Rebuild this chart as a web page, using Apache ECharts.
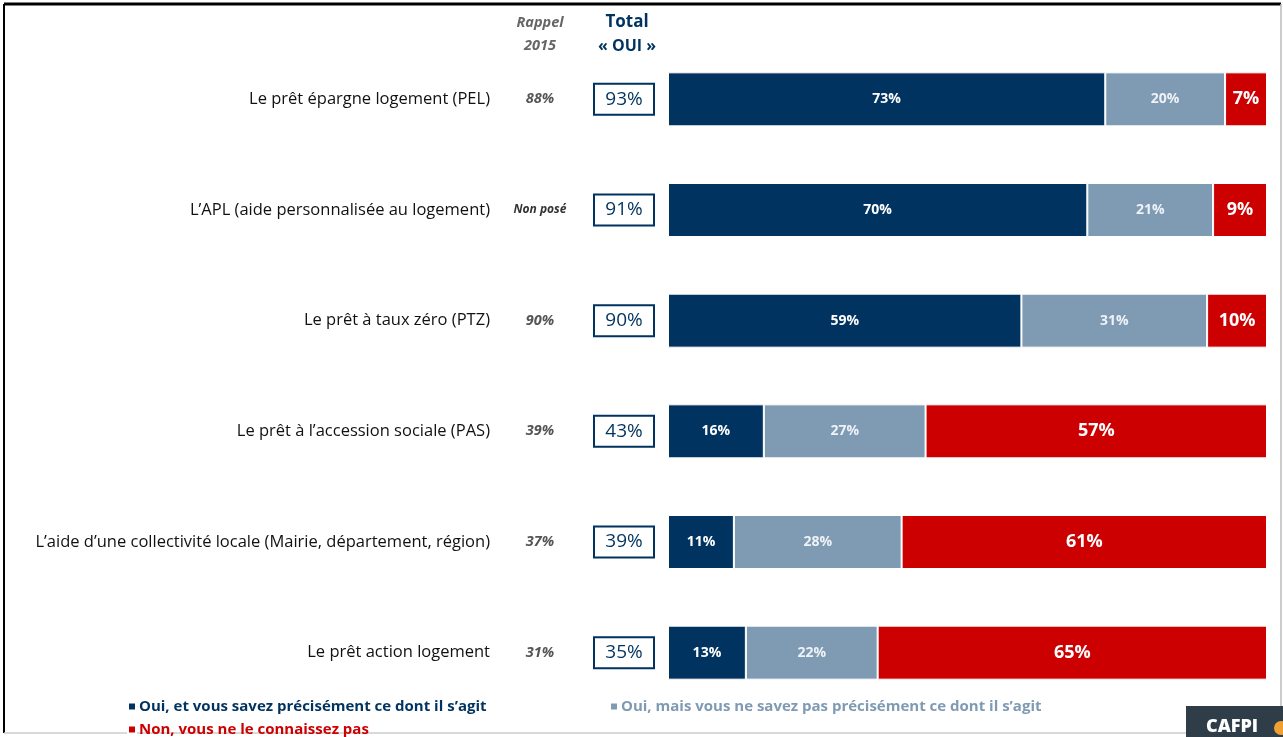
<!DOCTYPE html>
<html>
<head>
<meta charset="utf-8">
<script src="https://cdn.jsdelivr.net/npm/echarts@6/dist/echarts.min.js"></script>
<style>
  html, body { margin: 0; padding: 0; background: #fff; }
  #chart { width: 1283px; height: 737px; }
</style>
</head>
<body>
<div id="chart"></div>
<script>
// données
var categories = [
  "Le prêt épargne logement (PEL)",
  "L’APL (aide personnalisée au logement)",
  "Le prêt à taux zéro (PTZ)",
  "Le prêt à l’accession sociale (PAS)",
  "L’aide d’une collectivité locale (Mairie, département, région)",
  "Le prêt action logement"
];
var ouiPrecis = [73, 70, 59, 16, 11, 13];
var ouiVague = [20, 21, 31, 27, 28, 22];
var non = [7, 9, 10, 57, 61, 65];
var rappel2015 = ["88%", "Non posé", "90%", "39%", "37%", "31%"];
var totalOui = ["93%", "91%", "90%", "43%", "39%", "35%"];
var seriesNames = [
  "Oui, et vous savez précisément ce dont il s’agit",
  "Oui, mais vous ne savez pas précisément ce dont il s’agit",
  "Non, vous ne le connaissez pas"
];

var FONT = "'Open Sans', 'Liberation Sans', sans-serif";
var NAVY = "#00335f";
var GREY = "#7f9ab3";
var RED = "#cc0000";

var chart = echarts.init(document.getElementById("chart"));

function legendOf(name, color, left, top) {
  return {
    data: [{ name: name, textStyle: { color: color } }],
    left: left, top: top,
    icon: "rect", itemWidth: 8, itemHeight: 8, itemGap: 6,
    selectedMode: false,
    textStyle: { fontFamily: FONT, fontSize: 15, fontWeight: "bold", padding: [0, 0, 0, -2] }
  };
}

// un axe catégorie par colonne de texte
function catAxis(margin, align, labelOpt) {
  var ax = {
    type: "category",
    inverse: true,
    data: categories,
    position: "left",
    axisLine: { show: false },
    axisTick: { show: false },
    splitLine: { show: false },
    axisLabel: Object.assign({ margin: margin, align: align, fontFamily: FONT }, labelOpt)
  };
  return ax;
}

chart.setOption({
  animation: false,
  textStyle: { fontFamily: FONT },
  grid: { left: 668, right: 16, top: 44, bottom: 29 },
  xAxis: { type: "value", min: 0, max: 100, show: false },
  yAxis: [
    catAxis(178, "right", { fontSize: 16.5, color: "#111" }),
    catAxis(128, "center", {
      formatter: function (v, i) {
        var r = rappel2015[i];
        return r === "Non posé" ? "{np|" + r + "}" : "{rap|" + r + "}";
      },
      rich: {
        rap: { fontSize: 14.5, fontStyle: "italic", fontWeight: "bold", color: "#555", fontFamily: FONT },
        np: { fontSize: 12, fontStyle: "italic", fontWeight: "bold", color: "#333", fontFamily: FONT }
      }
    }),
    catAxis(14, "right", {
      formatter: function (v, i) { return "{tot|" + totalOui[i] + "}"; },
      rich: {
        tot: {
          width: 60, height: 31, lineHeight: 31, align: "center",
          fontSize: 19, color: NAVY, fontFamily: FONT,
          borderColor: NAVY, borderWidth: 2
        }
      }
    })
  ],
  legend: [
    legendOf(seriesNames[0], NAVY, 122, 694),
    legendOf(seriesNames[1], GREY, 604, 694),
    legendOf(seriesNames[2], RED, 122, 717)
  ],
  series: [
    {
      name: seriesNames[0], type: "bar", stack: "t", data: ouiPrecis, barWidth: 54,
      itemStyle: { color: NAVY, borderColor: "#fff", borderWidth: 1 },
      label: { show: true, position: "inside", formatter: "{c}%", color: "#fff", fontWeight: "bold", fontSize: 14 }
    },
    {
      name: seriesNames[1], type: "bar", stack: "t", data: ouiVague, barWidth: 54,
      itemStyle: { color: GREY, borderColor: "#fff", borderWidth: 1 },
      label: { show: true, position: "inside", formatter: "{c}%", color: "#eef2f6", fontWeight: "bold", fontSize: 14 }
    },
    {
      name: seriesNames[2], type: "bar", stack: "t", data: non, barWidth: 54,
      itemStyle: { color: RED, borderColor: "#fff", borderWidth: 1 },
      label: { show: true, position: "inside", formatter: "{c}%", color: "#fff", fontWeight: "bold", fontSize: 18 }
    }
  ],
  graphic: [
    // cadre
    { type: "line", shape: { x1: 4, y1: 4, x2: 1281, y2: 4 }, style: { stroke: "#000", lineWidth: 3 } },
    { type: "line", shape: { x1: 4, y1: 4, x2: 4, y2: 733 }, style: { stroke: "#000", lineWidth: 2 } },
    { type: "line", shape: { x1: 1281, y1: 4, x2: 1281, y2: 737 }, style: { stroke: "#bbb", lineWidth: 1.5 } },
    { type: "line", shape: { x1: 4, y1: 733, x2: 1186, y2: 733 }, style: { stroke: "#ccc", lineWidth: 1.5 } },
    // en-têtes
    { type: "text", x: 540, y: 23, style: { text: "Rappel", font: "italic bold 14.5px " + FONT, fill: "#666", textAlign: "center", textVerticalAlign: "middle" } },
    { type: "text", x: 540, y: 46, style: { text: "2015", font: "italic bold 14.5px " + FONT, fill: "#666", textAlign: "center", textVerticalAlign: "middle" } },
    { type: "text", x: 627, y: 22, style: { text: "Total", font: "bold 17px " + FONT, fill: NAVY, textAlign: "center", textVerticalAlign: "middle" } },
    { type: "text", x: 627, y: 46, style: { text: "« OUI »", font: "bold 16px " + FONT, fill: NAVY, textAlign: "center", textVerticalAlign: "middle" } },
    // logo
    { type: "rect", shape: { x: 1186, y: 706, width: 97, height: 31 }, style: { fill: "#2e3d48" } },
    { type: "text", x: 1232, y: 727, style: { text: "CAFPI", font: "900 18px " + FONT, fill: "#fff", textAlign: "center", textVerticalAlign: "middle" } },
    { type: "circle", shape: { cx: 1281, cy: 728, r: 7 }, style: { fill: "#f0a030" } }
  ]
});
</script>
</body>
</html>
